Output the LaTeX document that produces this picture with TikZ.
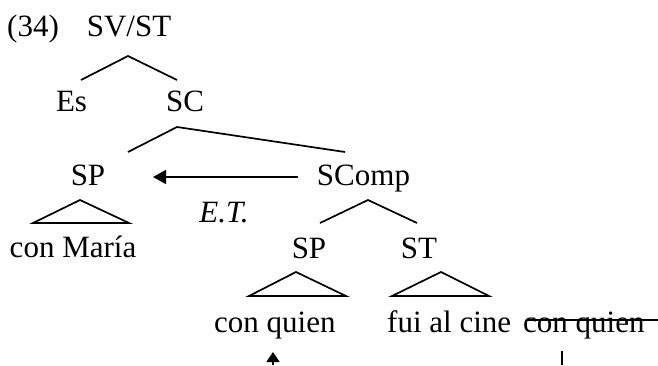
\documentclass[tikz,border=0pt]{standalone}
\usepackage{fontspec}
\setmainfont{Liberation Serif}
\usetikzlibrary{arrows.meta}
\begin{document}
\begin{tikzpicture}[x=1pt,y=1pt,
  lbl/.style={anchor=base, inner sep=0pt, font=\fontsize{31}{36}\selectfont},
  lblw/.style={anchor=base west, inner sep=0pt, font=\fontsize{31}{36}\selectfont},
  branch/.style={line width=1.7pt, line join=miter, line cap=butt},
  move/.style={line width=1.7pt, -{Triangle[length=13pt,width=14pt]}}]
\useasboundingbox (0,0) rectangle (658,365);

% labels
\node[lblw] (num)   at (7,328)     {(34)};
\node[lbl]  (svst)  at (129,328)   {SV/ST};
\node[lbl]  (es)    at (71.5,254)  {Es};
\node[lbl]  (sc)    at (185,254)   {SC};
\node[lbl]  (sp1)   at (88,180)    {SP};
\node[lbl]  (scomp) at (363.5,180) {SComp};
\node[lbl]  (et)    at (224,143)   {\itshape E.T.};
\node[lbl]  (cm)    at (73,108)    {con Mar\'{\i}a};
\node[lbl]  (sp2)   at (309,107)   {SP};
\node[lbl]  (st)    at (419,107)   {ST};
\node[lblw] (cq)    at (214,33)    {con quien};
\node[lblw] (fui)   at (387,33)    {fui al cine};
\node[lblw] (cqx)   at (523,33)    {con quien};

% branches
\coordinate (svstL) at (81,285);  \coordinate (svstT) at (128,309); \coordinate (svstR) at (177,285);
\coordinate (scL) at (128,213);   \coordinate (scT) at (177,238);   \coordinate (scR) at (345,213);
\coordinate (scpL) at (320,142);  \coordinate (scpT) at (368,165);  \coordinate (scpR) at (417,142);
\draw[branch] (svstL) -- (svstT) -- (svstR);
\draw[branch] (scL) -- (scT) -- (scR);
\draw[branch] (scpL) -- (scpT) -- (scpR);

% triangles
\draw[branch] (33,142) -- (80,165) -- (129,142) -- cycle;
\draw[branch] (249,69) -- (296,93) -- (346,69) -- cycle;
\draw[branch] (392,69) -- (441,93) -- (489,69) -- cycle;

% movement arrow
\coordinate (arrS) at (298,188);
\coordinate (arrE) at (153,188);
\draw[move] (arrS) -- (arrE);

% struck-out copy
\draw[line width=1.7pt] (527,45) -- (658,45);

% traces below the sentence
\coordinate (upB) at (273,0);   \coordinate (upT) at (273,13);
\draw[line width=1.7pt, -{Triangle[length=10pt,width=13pt]}] (upB) -- (upT);
\coordinate (vB) at (562,0);    \coordinate (vT) at (562,14);
\draw[line width=1.7pt] (vB) -- (vT);
\end{tikzpicture}
\end{document}
